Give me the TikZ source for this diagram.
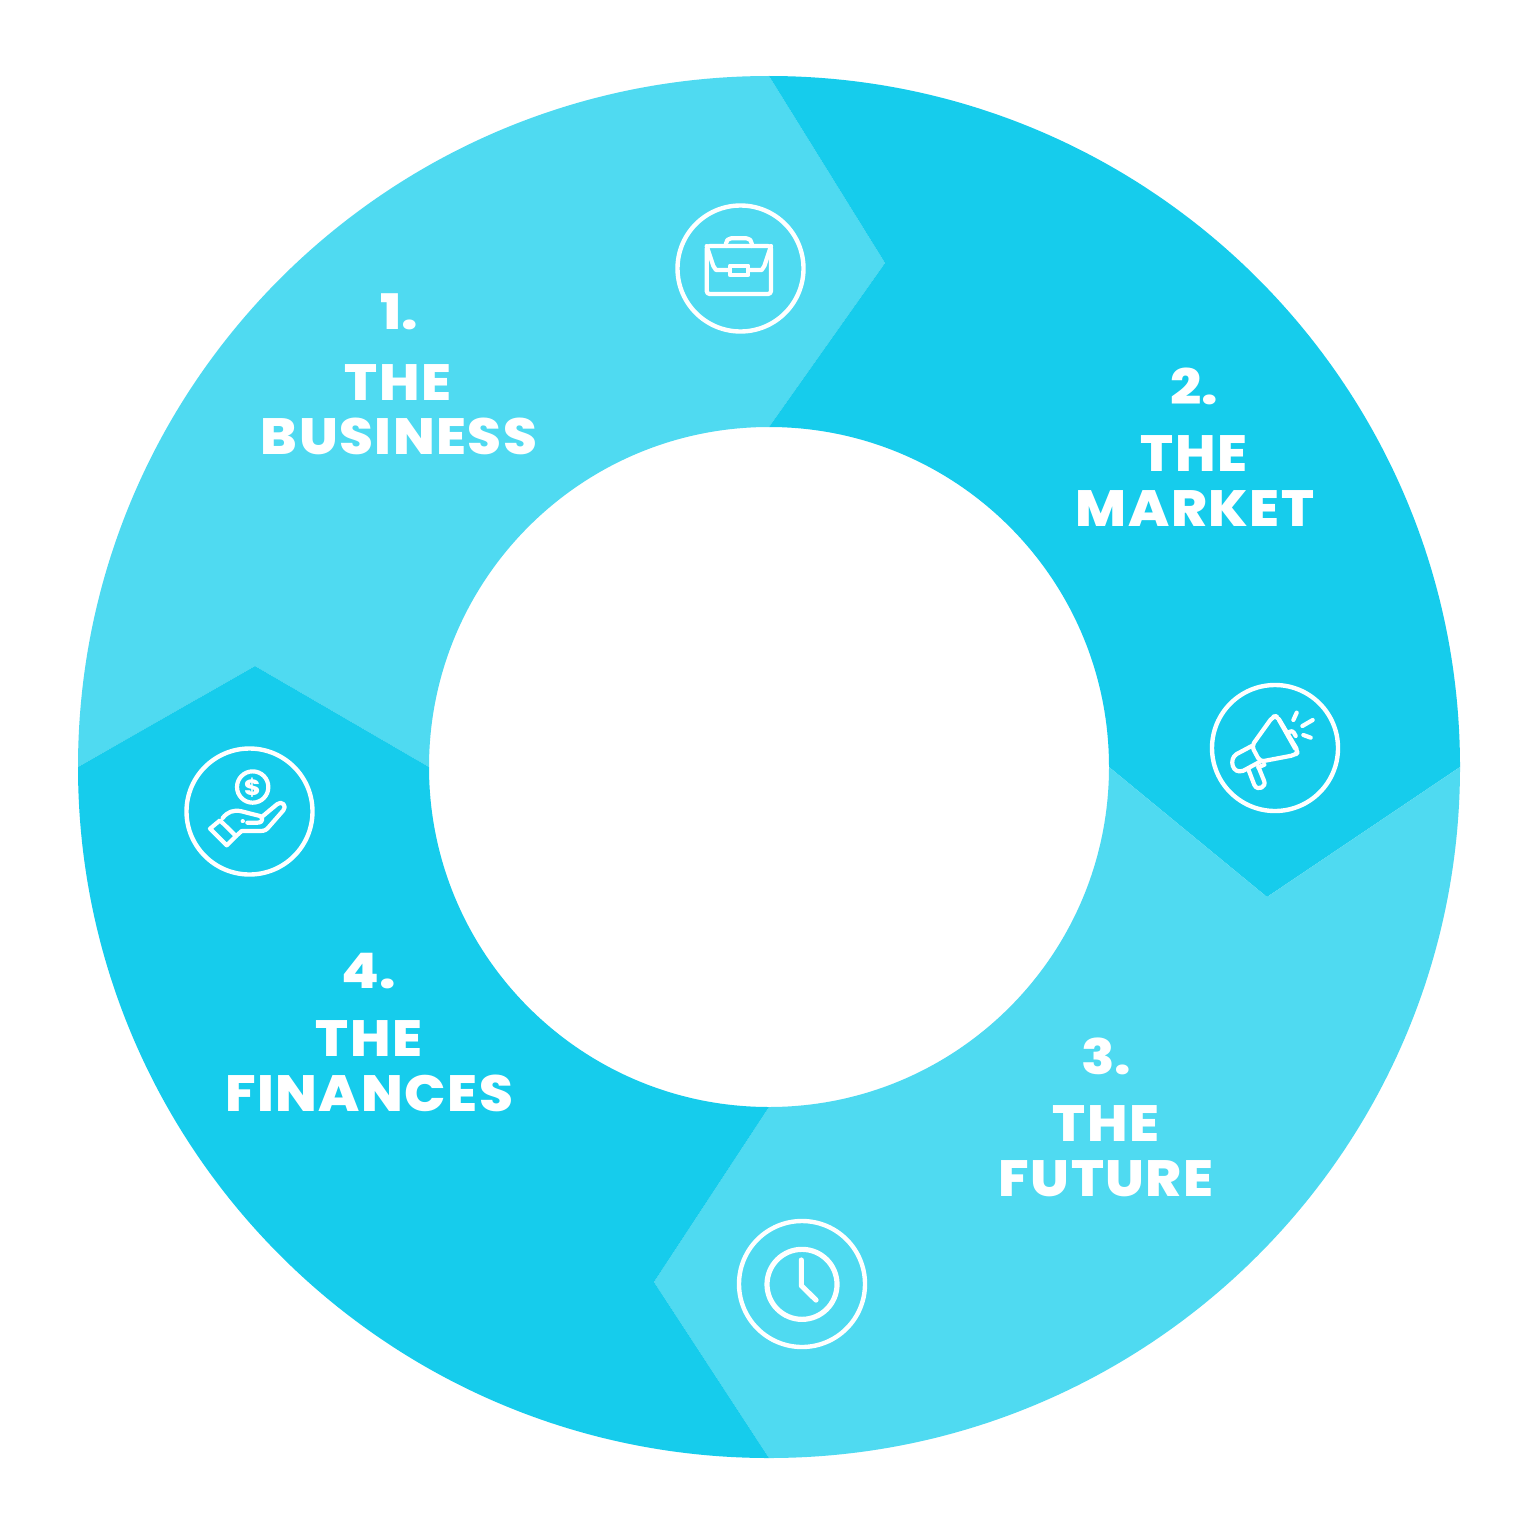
\documentclass[tikz,border=0pt]{standalone}
\usepackage{fontspec}
\newfontfamily\labelfont[LetterSpace=3,FakeStretch=1.07]{Poppins ExtraBold}
\newfontfamily\numfont[FakeStretch=1.12]{Poppins ExtraBold}
\definecolor{lightseg}{HTML}{4FDAF1}
\definecolor{darkseg}{HTML}{16CCEC}
\begin{document}
\begin{tikzpicture}[x=0.5pt,y=-0.5pt,
  num node/.style={anchor=base,text=white,inner sep=0pt,font=\numfont\fontsize{24.5}{27}\selectfont},
  line node/.style={anchor=base,text=white,inner sep=0pt,font=\labelfont\fontsize{25.5}{27}\selectfont},
  ring node/.style={circle,draw=white,line width=2.2pt,minimum size=63pt,inner sep=0pt},
  icon/.style={draw=white,line width=2.1pt,line join=round,line cap=round},
  icon view/.style={x=0.1667pt,y=-0.1667pt}]
\useasboundingbox (0,0) rectangle (1536,1536);
\fill[white] (0,0) rectangle (1536,1536);
%segments
\fill[lightseg] (769,76) -- (885,263) -- (769,427) arc[start angle=90,end angle=180,radius=170pt] -- (255,666) -- (78,767) arc[start angle=180,end angle=90,radius=345.5pt] -- cycle;
\fill[darkseg] (769,76) arc[start angle=90,end angle=0,radius=345.5pt] -- (1267,897) -- (1109,767) arc[start angle=0,end angle=90,radius=170pt] -- (885,263) -- cycle;
\fill[lightseg] (1460,767) arc[start angle=0,end angle=-90,radius=345.5pt] -- (654,1282) -- (769,1107) arc[start angle=-90,end angle=0,radius=170pt] -- (1267,897) -- cycle;
\fill[darkseg] (769,1458) arc[start angle=-90,end angle=-180,radius=345.5pt] -- (255,666) -- (429,767) arc[start angle=180,end angle=270,radius=170pt] -- (654,1282) -- cycle;
%labels
\node[num node] (n1) at (399,329) {1.};
\node[line node] (a1) at (398,400) {THE};
\node[line node] (b1) at (399,454) {BUSINESS};
\node[num node] (n2) at (1194,404) {2.};
\node[line node] (a2) at (1194,471) {THE};
\node[line node] (b2) at (1195,526) {MARKET};
\node[num node] (n3) at (1106,1074) {3.};
\node[line node] (a3) at (1106,1141) {THE};
\node[line node] (b3) at (1106,1196) {FUTURE};
\node[num node] (n4) at (369,988) {4.};
\node[line node] (a4) at (369,1056) {THE};
\node[line node] (b4) at (369,1111) {FINANCES};
%icon rings
\node[ring node] (r1) at (740.5,268.5) {};
\node[ring node] (r2) at (1275,748) {};
\node[ring node] (r3) at (249.5,811.5) {};
\node[ring node] (r4) at (802,1284) {};
%briefcase
\begin{scope}[shift={(660,190)},icon view]
\draw[icon,rounded corners=1.5pt] (140,168) rectangle (333,312);
\draw[icon] (140,168) -- (160,228) -- (168,240) -- (210,240);
\draw[icon] (333,168) -- (313,228) -- (305,240) -- (265,240);
\draw[icon] (210,227) rectangle (265,255);
\draw[icon,rounded corners=2.5pt] (198,168) -- (198,145) -- (275,145) -- (275,168);
\end{scope}
%megaphone
\begin{scope}[shift={(1195,670)},icon view]
\draw[icon,rounded corners=2pt] (170,228) -- (233,140) -- (246,138) -- (310,245) -- (300,255) -- (195,275) -- cycle;
\draw[icon] (252,150) -- (300,235);
\draw[icon] (170,228) -- (125,252) .. controls (100,267) and (112,315) .. (145,302) -- (195,275);
\draw[icon] (160,298) -- (178,345) .. controls (188,365) and (216,350) .. (207,332) -- (190,290);
\draw[icon] (190,292) -- (208,284);
\draw[icon,rounded corners=1.5pt] (280,188) -- (292,180) -- (302,198);
\draw[icon] (295,150) -- (305,128);
\draw[icon] (322,168) -- (353,150);
\draw[icon] (325,195) -- (347,203);
\end{scope}
%hand and coin
\begin{scope}[shift={(170,732)},icon view]
\draw[icon] (248,165) circle[radius=47];
\node[text=white,inner sep=0pt,font=\numfont\fontsize{11}{11}\selectfont] (d) at (247,167) {\$};
\draw[icon] (150,265) -- (120,290) -- (170,340) -- (198,312) -- cycle;
\draw[icon] (158,258) .. controls (172,240) and (190,232) .. (215,238) -- (262,250) .. controls (282,252) and (282,272) .. (262,272) -- (232,272);
\draw[icon] (218,268) -- (218.5,268);
\draw[icon] (275,255) -- (322,216) .. controls (335,205) and (352,222) .. (340,235) -- (298,283) .. controls (290,293) and (285,297) .. (270,297) -- (215,297) -- (198,312);
\end{scope}
%clock
\begin{scope}[shift={(722,1205)},icon view]
\draw[icon,line width=2.6pt] (240,238) circle[radius=105];
\draw[icon,line width=2.6pt] (238,165) -- (238,242) -- (282,285);
\end{scope}
\end{tikzpicture}
\end{document}
